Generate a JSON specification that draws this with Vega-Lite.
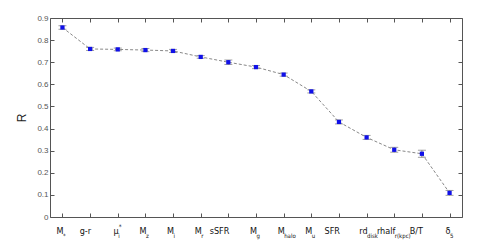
{
  "$schema": "https://vega.github.io/schema/vega-lite/v6.json",
  "width": 412,
  "height": 199,
  "autosize": "none",
  "padding": {"left": 50, "top": 18, "right": 29, "bottom": 28},
  "background": "white",
  "config": {
    "view": {"stroke": null},
    "font": "Liberation Sans",
    "axis": {
      "domainColor": "#555555",
      "tickColor": "#555555",
      "labelColor": "#555555",
      "grid": false,
      "tickSize": -4,
      "labelFont": "Liberation Sans",
      "titleFont": "Liberation Sans"
    }
  },
  "data": {
    "values": [
      {"var": "Mstar", "main": "M", "sub": "*", "sup": "", "R": 0.857, "lo": 0.849, "hi": 0.865},
      {"var": "g-r", "main": "g-r", "sub": "", "sup": "", "R": 0.760, "lo": 0.753, "hi": 0.767},
      {"var": "ui", "main": "μ", "sub": "i", "sup": "*", "R": 0.758, "lo": 0.752, "hi": 0.764},
      {"var": "Mz", "main": "M", "sub": "z", "sup": "", "R": 0.755, "lo": 0.748, "hi": 0.762},
      {"var": "Mi", "main": "M", "sub": "i", "sup": "", "R": 0.751, "lo": 0.744, "hi": 0.758},
      {"var": "Mr", "main": "M", "sub": "r", "sup": "", "R": 0.724, "lo": 0.718, "hi": 0.730},
      {"var": "sSFR", "main": "sSFR", "sub": "", "sup": "", "R": 0.700, "lo": 0.690, "hi": 0.710},
      {"var": "Mg", "main": "M", "sub": "g", "sup": "", "R": 0.678, "lo": 0.671, "hi": 0.685},
      {"var": "Mhalo", "main": "M", "sub": "halo", "sup": "", "R": 0.644, "lo": 0.637, "hi": 0.651},
      {"var": "Mu", "main": "M", "sub": "u", "sup": "", "R": 0.568, "lo": 0.561, "hi": 0.575},
      {"var": "SFR", "main": "SFR", "sub": "", "sup": "", "R": 0.430, "lo": 0.421, "hi": 0.439},
      {"var": "rd", "main": "rd", "sub": "disk", "sup": "", "R": 0.360, "lo": 0.351, "hi": 0.369},
      {"var": "rhalf", "main": "rhalf", "sub": "r(kpc)", "sup": "", "R": 0.304, "lo": 0.293, "hi": 0.315},
      {"var": "B/T", "main": "B/T", "sub": "", "sup": "", "R": 0.286, "lo": 0.270, "hi": 0.302},
      {"var": "d5", "main": "δ", "sub": "5", "sup": "", "R": 0.109, "lo": 0.098, "hi": 0.120}
    ]
  },
  "layer": [
    {
      "mark": {"type": "line", "color": "#888888", "strokeWidth": 1, "strokeDash": [3, 2]},
      "encoding": {
        "x": {"field": "var", "type": "nominal", "sort": null,
              "scale": {"type": "point", "padding": 0.45},
              "axis": {"orient": "bottom", "labels": false, "title": null}},
        "y": {"field": "R", "type": "quantitative",
              "scale": {"domain": [0, 0.9], "nice": false},
              "axis": {"orient": "left", "values": [0, 0.1, 0.2, 0.3, 0.4, 0.5, 0.6, 0.7, 0.8, 0.9],
                       "format": ".1~f", "labelFontSize": 8, "labelPadding": 6,
                       "title": "R", "titleFontSize": 12, "titleFontWeight": "normal",
                       "titleColor": "#222222", "titlePadding": 8}}
      }
    },
    {
      "mark": {"type": "rule", "color": "#777777", "strokeWidth": 1},
      "encoding": {
        "x": {"field": "var", "type": "nominal", "sort": null,
              "axis": {"orient": "top", "labels": false, "title": null}},
        "y": {"field": "lo", "type": "quantitative",
              "axis": {"orient": "right", "labels": false, "title": null,
                       "values": [0, 0.1, 0.2, 0.3, 0.4, 0.5, 0.6, 0.7, 0.8, 0.9]}},
        "y2": {"field": "hi"}
      }
    },
    {
      "mark": {"type": "tick", "color": "#777777", "size": 8, "thickness": 1},
      "encoding": {
        "x": {"field": "var", "type": "nominal", "sort": null, "axis": null},
        "y": {"field": "lo", "type": "quantitative", "axis": null}
      }
    },
    {
      "mark": {"type": "tick", "color": "#777777", "size": 8, "thickness": 1},
      "encoding": {
        "x": {"field": "var", "type": "nominal", "sort": null, "axis": null},
        "y": {"field": "hi", "type": "quantitative", "axis": null}
      }
    },
    {
      "mark": {"type": "square", "filled": true, "color": "#1010e8", "size": 18, "opacity": 1},
      "encoding": {
        "x": {"field": "var", "type": "nominal", "sort": null, "axis": null},
        "y": {"field": "R", "type": "quantitative", "axis": null}
      }
    },
    {
      "mark": {"type": "text", "align": "right", "baseline": "alphabetic", "dx": 1, "dy": 17, "fontSize": 9, "font": "Liberation Sans Narrow, DejaVu Sans Condensed, Liberation Sans", "color": "#111111", "clip": false},
      "encoding": {
        "x": {"field": "var", "type": "nominal", "sort": null, "axis": null},
        "y": {"datum": 0, "type": "quantitative", "axis": null},
        "text": {"field": "main"}
      }
    },
    {
      "mark": {"type": "text", "align": "left", "baseline": "alphabetic", "dx": 0.5, "dy": 20.5, "fontSize": 6, "font": "Liberation Sans Narrow, DejaVu Sans Condensed, Liberation Sans", "color": "#111111", "clip": false},
      "encoding": {
        "x": {"field": "var", "type": "nominal", "sort": null, "axis": null},
        "y": {"datum": 0, "type": "quantitative", "axis": null},
        "text": {"field": "sub"}
      }
    },
    {
      "mark": {"type": "text", "align": "left", "baseline": "alphabetic", "dx": 1, "dy": 12, "fontSize": 6.5, "font": "Liberation Sans Narrow, DejaVu Sans Condensed, Liberation Sans", "color": "#111111", "clip": false},
      "encoding": {
        "x": {"field": "var", "type": "nominal", "sort": null, "axis": null},
        "y": {"datum": 0, "type": "quantitative", "axis": null},
        "text": {"field": "sup"}
      }
    }
  ],
  "resolve": {"axis": {"x": "independent", "y": "independent"}}
}
